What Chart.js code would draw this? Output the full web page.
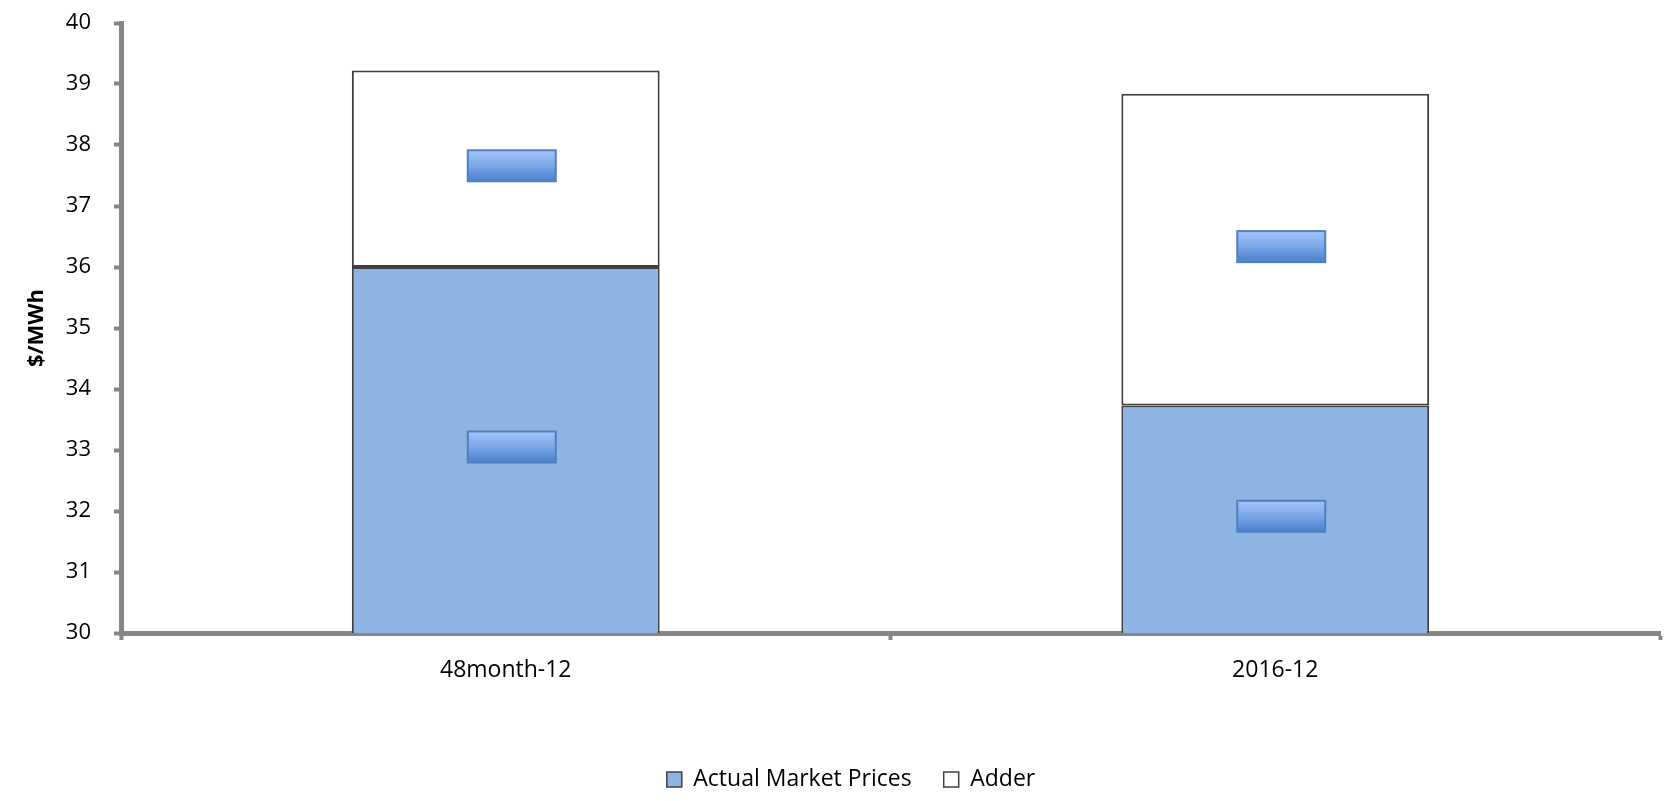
<!DOCTYPE html>
<html>
<head>
<meta charset="utf-8">
<script src="https://cdn.jsdelivr.net/npm/chart.js@4.4.0/dist/chart.umd.min.js"></script>
<style>
  html, body { margin: 0; padding: 0; background: #fff; }
  #wrap { width: 1669px; height: 801px; }
</style>
</head>
<body>
<div id="wrap"><canvas id="chart" width="1669" height="801"></canvas></div>
<script>
const categories = ["48month-12", "2016-12"];
const actualPrices = [36.00, 33.73];
const adder = [3.22, 5.11];
const yTicks = { min: 30, max: 40, step: 1 };

const axisGray = "#868686";
const fontFamily = "'Open Sans', sans-serif";

// value labels, then the blue boxes that sit on top of them in the original
const labelBoxes = {
    id: "labelBoxes",
    afterDatasetsDraw(chart) {
        const ctx = chart.ctx;
        const area = chart.chartArea;
        chart.data.datasets.forEach((ds, di) => {
            const meta = chart.getDatasetMeta(di);
            meta.data.forEach((bar, i) => {
                const cx = bar.x;
                // base of the bottom segment is value 0, far below the axis min
                const bottom = Math.min(bar.base, area.bottom);
                const cy = (bar.y + bottom) / 2;
                ctx.save();
                ctx.fillStyle = "#000";
                ctx.font = "21px " + fontFamily;
                ctx.textAlign = "center";
                ctx.textBaseline = "middle";
                ctx.fillText(ds.data[i].toFixed(2), cx + 6, cy + 3);

                const w = 88, h = 31;
                const bx = cx + 6 - w / 2, by = cy - 3 - h / 2;
                const g = ctx.createLinearGradient(0, by, 0, by + h);
                g.addColorStop(0, "#a3c6fb");
                g.addColorStop(0.5, "#7aa6e6");
                g.addColorStop(1, "#4a80cc");
                ctx.fillStyle = g;
                ctx.fillRect(bx, by, w, h);
                ctx.strokeStyle = "#4f7fbf";
                ctx.lineWidth = 2;
                ctx.strokeRect(bx, by, w, h);
                ctx.restore();
            });
        });
    }
};

// legend sits a little right of centre in the original
const legendShift = {
    id: "legendShift",
    afterLayout(chart) {
        chart.legend.left += 21;
        chart.legend.right += 21;
    }
};

new Chart(document.getElementById("chart"), {
    type: "bar",
    data: {
        labels: categories,
        datasets: [
            {
                label: "Actual Market Prices",
                data: actualPrices,
                backgroundColor: "#8eb4e3",
                borderColor: "#3f3f3f",
                borderWidth: 2,
                borderSkipped: false,
                barPercentage: 0.8,
                categoryPercentage: 0.5
            },
            {
                label: "Adder",
                data: adder,
                backgroundColor: "#ffffff",
                borderColor: "#3f3f3f",
                borderWidth: 2,
                borderSkipped: false,
                barPercentage: 0.8,
                categoryPercentage: 0.5
            }
        ]
    },
    options: {
        responsive: false,
        animation: false,
        layout: { padding: { left: 0, right: 9, top: 23, bottom: 0 } },
        plugins: {
            legend: {
                position: "bottom",
                labels: {
                    color: "#000",
                    font: { family: fontFamily, size: 23 },
                    boxWidth: 15,
                    boxHeight: 15,
                    padding: 32,
                    generateLabels(chart) {
                        return chart.data.datasets.map((ds, i) => ({
                            text: ds.label,
                            fillStyle: ds.backgroundColor,
                            strokeStyle: "#404040",
                            lineWidth: 1.5,
                            datasetIndex: i
                        }));
                    }
                }
            },
            tooltip: { enabled: false }
        },
        scales: {
            x: {
                stacked: true,
                afterFit(scale) { scale.height = 103; },
                border: { display: true, color: axisGray, width: 5 },
                grid: {
                    display: true,
                    drawOnChartArea: false,
                    drawTicks: true,
                    tickLength: 7,
                    tickWidth: 4,
                    tickColor: axisGray,
                    offset: true
                },
                ticks: {
                    color: "#000",
                    padding: 17,
                    font: { family: fontFamily, size: 23 }
                }
            },
            y: {
                stacked: true,
                min: yTicks.min,
                max: yTicks.max,
                afterFit(scale) {
                    scale.width = 121;
                    scale.paddingTop = 12;
                    scale.paddingBottom = 12;
                },
                border: { display: true, color: axisGray, width: 5 },
                grid: {
                    display: true,
                    drawOnChartArea: false,
                    drawTicks: true,
                    tickLength: 7,
                    tickWidth: 4,
                    tickColor: axisGray
                },
                ticks: {
                    stepSize: yTicks.step,
                    color: "#000",
                    padding: 23,
                    font: { family: fontFamily, size: 22 }
                },
                title: {
                    display: true,
                    text: "$/MWh",
                    color: "#000",
                    font: { family: fontFamily, size: 22, weight: "bold" },
                    padding: { top: 24, bottom: 6 }
                }
            }
        }
    },
    plugins: [labelBoxes, legendShift]
});
</script>
</body>
</html>
